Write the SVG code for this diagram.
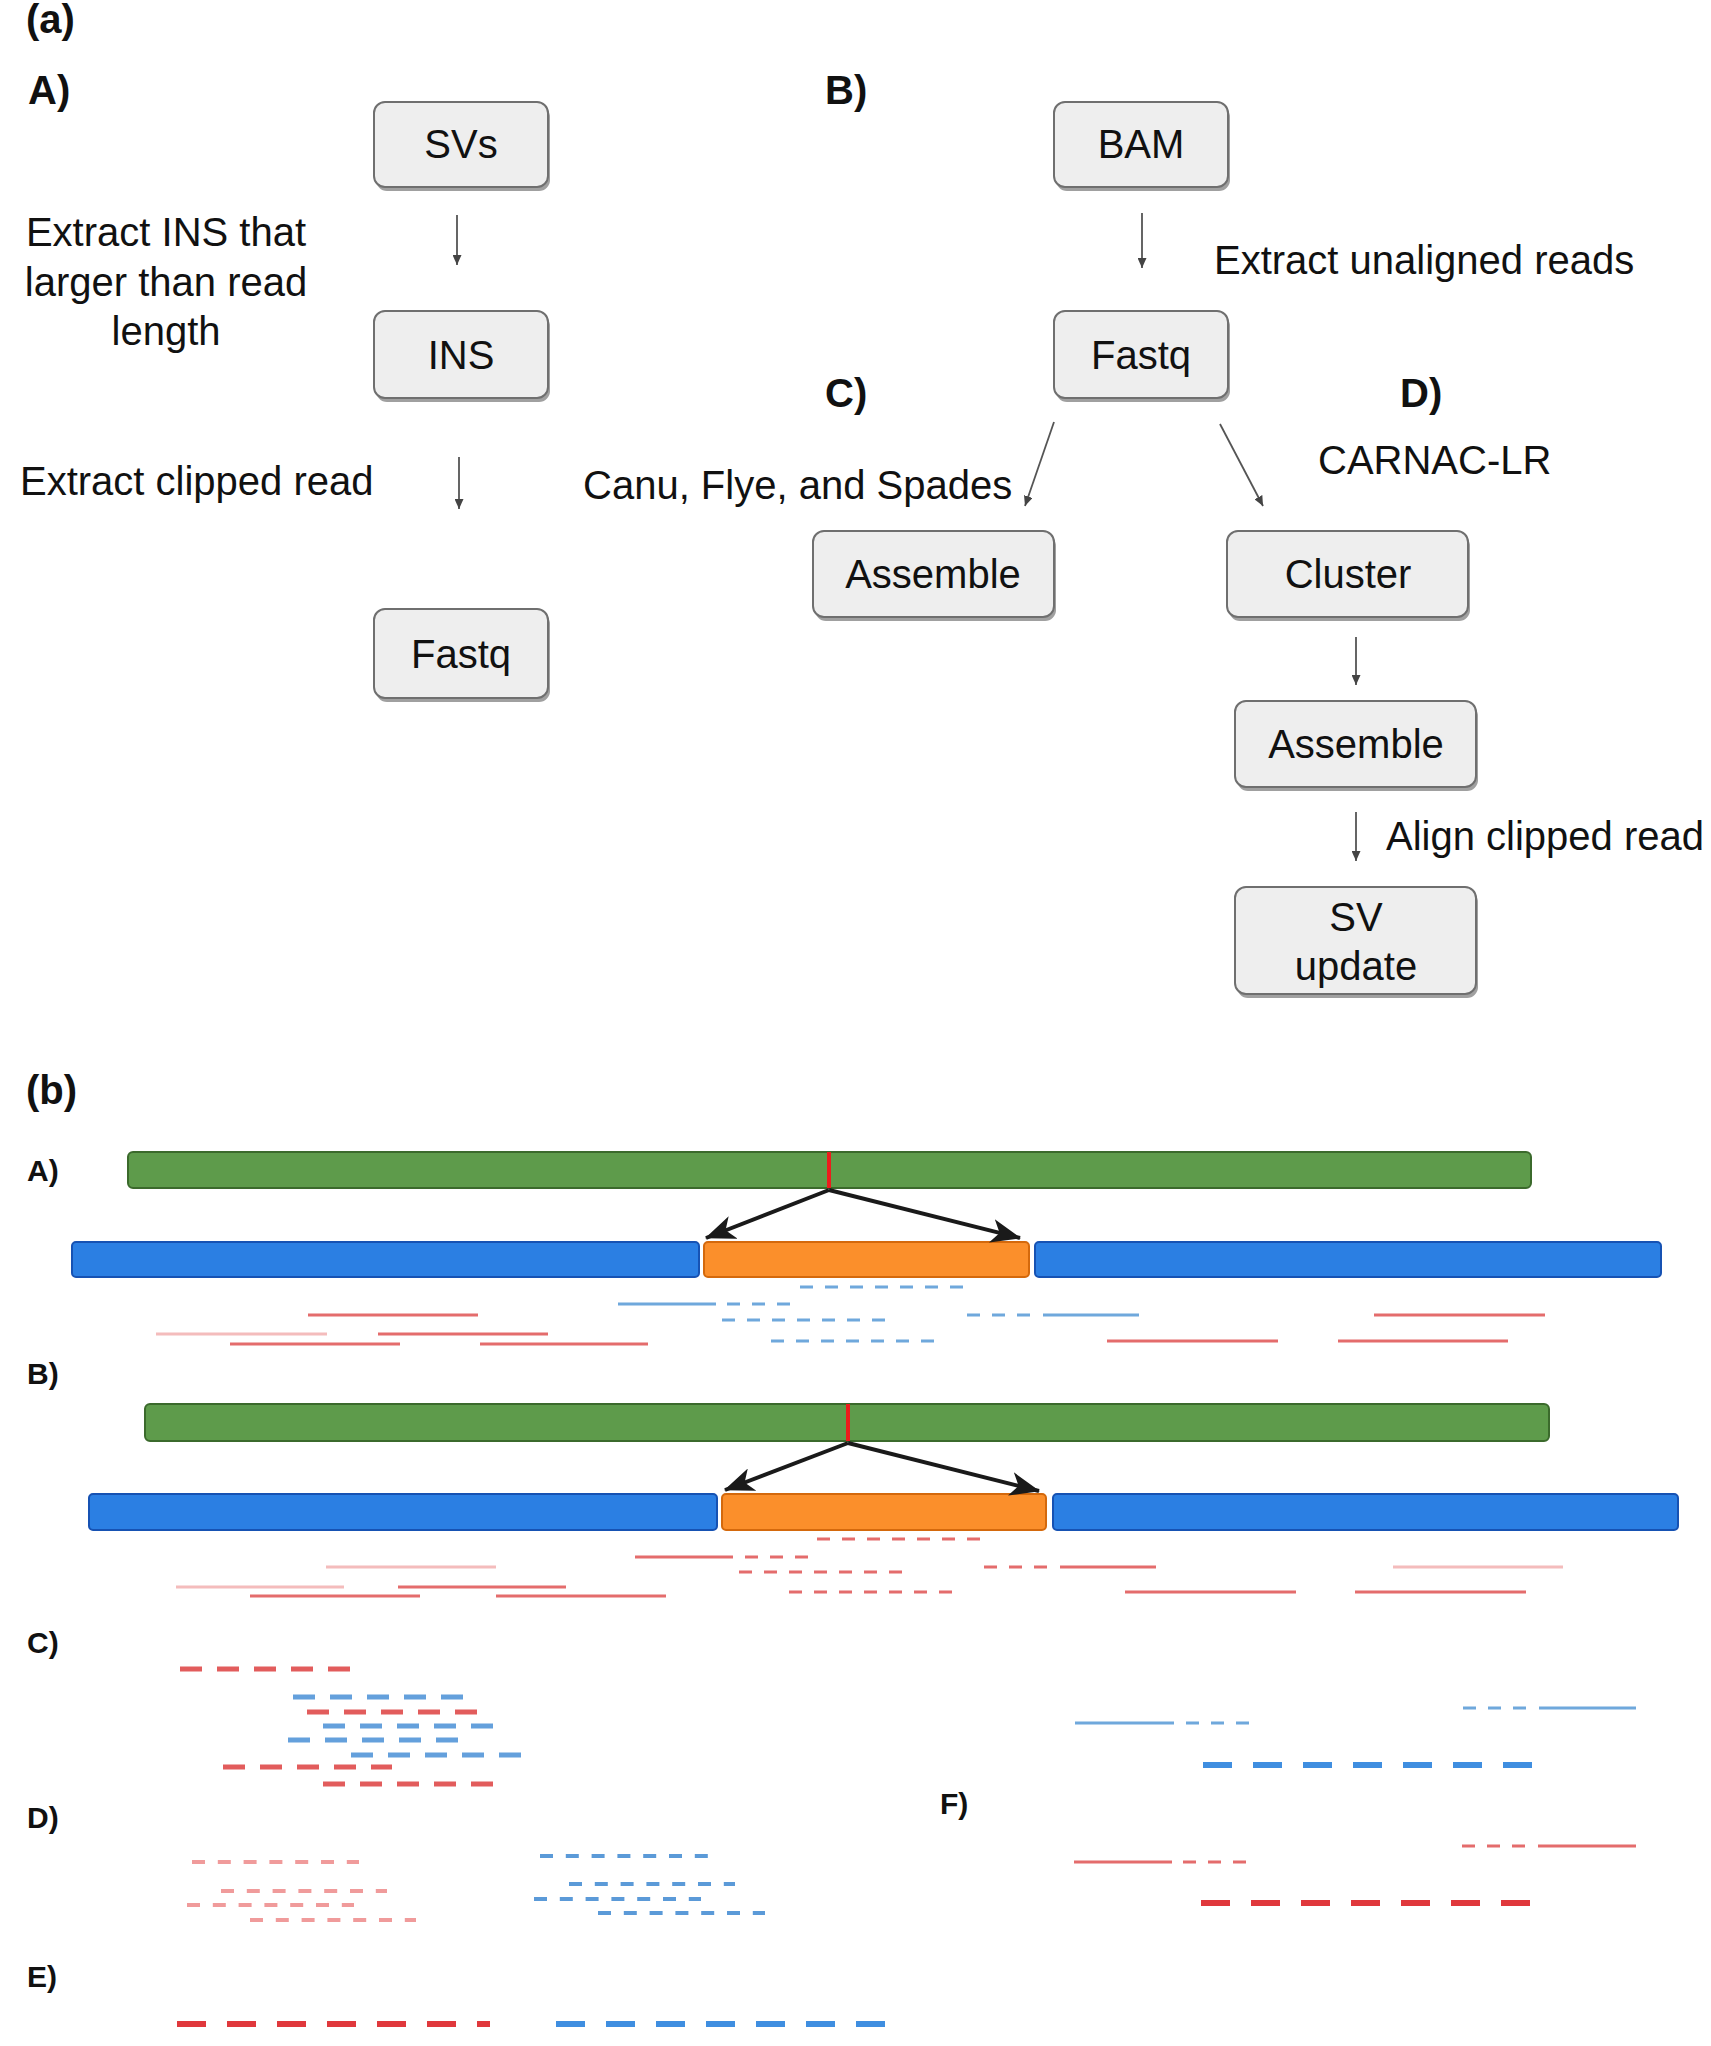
<svg xmlns="http://www.w3.org/2000/svg" width="1711" height="2046" viewBox="0 0 1711 2046">
<style>
text{font-family:"Liberation Sans",Arial,sans-serif;fill:#111}
.t{font-size:40px}
.c{text-anchor:middle}
.hb{font-size:40px;font-weight:bold}
.lb{font-size:30px;font-weight:bold}
.box{fill:#eeeeee;stroke:#6f6f6f;stroke-width:2}
.sh{fill:#a0a0a0}
.flow{stroke:#555;stroke-width:1.8;fill:none}
.big{stroke:#1a1a1a;stroke-width:4;fill:none}
.green{fill:#5e9b4b;stroke:#3b6a2c;stroke-width:2}
.blue{fill:#2b7fe3;stroke:#1652b3;stroke-width:2}
.orange{fill:#fb8f2b;stroke:#d4690c;stroke-width:2}
.r{stroke:#e46c6c;stroke-width:3;fill:none}
.p{stroke:#f4bcbc;stroke-width:3;fill:none}
.b{stroke:#6fa8dc;stroke-width:3;fill:none}
.d{stroke-dasharray:13 12}
.cr{stroke:#e25c5c;stroke-width:5;stroke-dasharray:22 15;fill:none}
.cb{stroke:#64a0dc;stroke-width:5;stroke-dasharray:22 15;fill:none}
.dr{stroke:#f09b9b;stroke-width:4;stroke-dasharray:13 12.8;fill:none}
.db{stroke:#5b9ad8;stroke-width:4;stroke-dasharray:13 12.8;fill:none}
.er{stroke:#e0383c;stroke-width:6;stroke-dasharray:29 21;fill:none}
.eb{stroke:#3f8ee0;stroke-width:6;stroke-dasharray:29 21;fill:none}
</style>
<defs>
<marker id="ah" markerUnits="userSpaceOnUse" markerWidth="10" markerHeight="9" refX="10" refY="4.5" orient="auto"><path d="M0,0 L10,4.5 L0,9 z" fill="#444"/></marker>
<marker id="bh" markerUnits="userSpaceOnUse" markerWidth="30" markerHeight="24" refX="29" refY="12" orient="auto"><path d="M0,0 L30,12 L0,24 L8,12 z" fill="#1a1a1a"/></marker>
</defs>
<rect width="1711" height="2046" fill="#fff"/>

<!-- panel (a) labels -->
<g id="labels-a">
<text class="hb" x="26" y="33">(a)</text>
<text class="hb" x="28" y="104">A)</text>
<text class="hb" x="825" y="104">B)</text>
<text class="hb" x="825" y="407">C)</text>
<text class="hb" x="1400" y="407">D)</text>
<text class="t c" x="166" y="246">Extract INS that</text>
<text class="t c" x="166" y="296">larger than read</text>
<text class="t c" x="166" y="345">length</text>
<text class="t" x="20" y="495">Extract clipped read</text>
<text class="t" x="1214" y="274">Extract unaligned reads</text>
<text class="t" x="583" y="499">Canu, Flye, and Spades</text>
<text class="t" x="1318" y="474">CARNAC-LR</text>
<text class="t" x="1386" y="850">Align clipped read</text>
</g>

<g id="node-svs"><rect class="sh" x="376" y="106" width="174" height="85" rx="11"/><rect class="box" x="374" y="102" width="174" height="85" rx="11"/><text class="t c" x="461" y="158">SVs</text></g>
<g id="node-ins"><rect class="sh" x="376" y="315" width="174" height="87" rx="11"/><rect class="box" x="374" y="311" width="174" height="87" rx="11"/><text class="t c" x="461" y="369">INS</text></g>
<g id="node-fastq-a"><rect class="sh" x="376" y="613" width="174" height="89" rx="11"/><rect class="box" x="374" y="609" width="174" height="89" rx="11"/><text class="t c" x="461" y="668">Fastq</text></g>
<g id="node-bam"><rect class="sh" x="1056" y="106" width="174" height="85" rx="11"/><rect class="box" x="1054" y="102" width="174" height="85" rx="11"/><text class="t c" x="1141" y="158">BAM</text></g>
<g id="node-fastq-b"><rect class="sh" x="1056" y="315" width="174" height="87" rx="11"/><rect class="box" x="1054" y="311" width="174" height="87" rx="11"/><text class="t c" x="1141" y="369">Fastq</text></g>
<g id="node-assemble-c"><rect class="sh" x="815" y="535" width="241" height="86" rx="11"/><rect class="box" x="813" y="531" width="241" height="86" rx="11"/><text class="t c" x="933" y="588">Assemble</text></g>
<g id="node-cluster"><rect class="sh" x="1229" y="535" width="241" height="86" rx="11"/><rect class="box" x="1227" y="531" width="241" height="86" rx="11"/><text class="t c" x="1348" y="588">Cluster</text></g>
<g id="node-assemble-d"><rect class="sh" x="1237" y="705" width="241" height="86" rx="11"/><rect class="box" x="1235" y="701" width="241" height="86" rx="11"/><text class="t c" x="1356" y="758">Assemble</text></g>
<g id="node-svupdate"><rect class="sh" x="1237" y="891" width="241" height="107" rx="11"/><rect class="box" x="1235" y="887" width="241" height="107" rx="11"/><text class="t c" x="1356" y="931">SV</text><text class="t c" x="1356" y="980">update</text></g>

<g id="connectors">
<line class="flow" x1="457" y1="215" x2="457" y2="265" marker-end="url(#ah)"/>
<line class="flow" x1="459" y1="457" x2="459" y2="509" marker-end="url(#ah)"/>
<line class="flow" x1="1142" y1="213" x2="1142" y2="268" marker-end="url(#ah)"/>
<line class="flow" x1="1054" y1="422" x2="1025" y2="506" marker-end="url(#ah)"/>
<line class="flow" x1="1220" y1="424" x2="1263" y2="506" marker-end="url(#ah)"/>
<line class="flow" x1="1356" y1="637" x2="1356" y2="685" marker-end="url(#ah)"/>
<line class="flow" x1="1356" y1="812" x2="1356" y2="861" marker-end="url(#ah)"/>
</g>

<!-- panel (b) -->
<g id="labels-b">
<text class="hb" x="26" y="1104">(b)</text>
<text class="lb" x="27" y="1181">A)</text>
<text class="lb" x="27" y="1384">B)</text>
<text class="lb" x="27" y="1653">C)</text>
<text class="lb" x="27" y="1828">D)</text>
<text class="lb" x="27" y="1987">E)</text>
<text class="lb" x="940" y="1814">F)</text>
</g>

<g id="b-A">
<rect class="green" x="128" y="1152" width="1403" height="36" rx="5"/>
<line x1="829" y1="1152" x2="829" y2="1188" stroke="#ec1c1c" stroke-width="4"/>
<rect class="blue" x="72" y="1242" width="627" height="35" rx="4"/>
<rect class="orange" x="704" y="1242" width="325" height="35" rx="4"/>
<rect class="blue" x="1035" y="1242" width="626" height="35" rx="4"/>
<line class="big" x1="829" y1="1190" x2="706" y2="1238" marker-end="url(#bh)"/>
<line class="big" x1="829" y1="1190" x2="1020" y2="1238" marker-end="url(#bh)"/>
<path class="b d" d="M800,1287H963"/>
<path class="b" d="M618,1304H716"/>
<path class="b d" d="M727,1304H790"/>
<path class="b d" d="M967,1315H1030"/>
<path class="b" d="M1043,1315H1139"/>
<path class="b d" d="M722,1320H886"/>
<path class="b d" d="M771,1341H936"/>
<path class="r" d="M308,1315H478"/>
<path class="p" d="M156,1334H327"/>
<path class="r" d="M378,1334H548"/>
<path class="r" d="M230,1344H400"/>
<path class="r" d="M480,1344H648"/>
<path class="r" d="M1374,1315H1545"/>
<path class="r" d="M1107,1341H1278"/>
<path class="r" d="M1338,1341H1508"/>
</g>

<g id="b-B">
<rect class="green" x="145" y="1404" width="1404" height="37" rx="5"/>
<line x1="848" y1="1404" x2="848" y2="1441" stroke="#ec1c1c" stroke-width="4"/>
<rect class="blue" x="89" y="1494" width="628" height="36" rx="4"/>
<rect class="orange" x="722" y="1494" width="324" height="36" rx="4"/>
<rect class="blue" x="1053" y="1494" width="625" height="36" rx="4"/>
<line class="big" x1="848" y1="1443" x2="725" y2="1490" marker-end="url(#bh)"/>
<line class="big" x1="848" y1="1443" x2="1039" y2="1491" marker-end="url(#bh)"/>
<path class="r d" d="M817,1539H982"/>
<path class="r" d="M635,1557H733"/>
<path class="r d" d="M745,1557H810"/>
<path class="r d" d="M984,1567H1049"/>
<path class="r" d="M1060,1567H1156"/>
<path class="r d" d="M739,1572H905"/>
<path class="r d" d="M789,1592H955"/>
<path class="p" d="M326,1567H496"/>
<path class="p" d="M176,1587H344"/>
<path class="r" d="M398,1587H566"/>
<path class="r" d="M250,1596H420"/>
<path class="r" d="M496,1596H666"/>
<path class="p" d="M1393,1567H1563"/>
<path class="r" d="M1125,1592H1296"/>
<path class="r" d="M1355,1592H1526"/>
</g>

<g id="b-C">
<path class="cr" d="M180,1669H350"/>
<path class="cb" d="M293,1697H463"/>
<path class="cr" d="M307,1712H478"/>
<path class="cb" d="M323,1726H493"/>
<path class="cb" d="M288,1740H458"/>
<path class="cb" d="M351,1755H522"/>
<path class="cr" d="M223,1767H392"/>
<path class="cr" d="M323,1784H493"/>
</g>

<g id="b-D">
<path class="dr" d="M192,1862H359"/>
<path class="dr" d="M221,1891H387"/>
<path class="dr" d="M187,1905H354"/>
<path class="dr" d="M250,1920H416"/>
<path class="db" d="M540,1856H708"/>
<path class="db" d="M569,1884H735"/>
<path class="db" d="M534,1899H701"/>
<path class="db" d="M598,1913H765"/>
</g>

<g id="b-E">
<path class="er" d="M177,2024H490"/>
<path class="eb" d="M556,2024H886"/>
</g>

<g id="b-F">
<path class="b d" d="M1463,1708H1527"/>
<path class="b" d="M1539,1708H1636"/>
<path class="b" d="M1075,1723H1174"/>
<path class="b d" d="M1186,1723H1250"/>
<path class="eb" d="M1203,1765H1533"/>
<path class="r d" d="M1462,1846H1527"/>
<path class="r" d="M1538,1846H1636"/>
<path class="r" d="M1074,1862H1172"/>
<path class="r d" d="M1183,1862H1248"/>
<path class="er" d="M1201,1903H1533"/>
</g>
</svg>
